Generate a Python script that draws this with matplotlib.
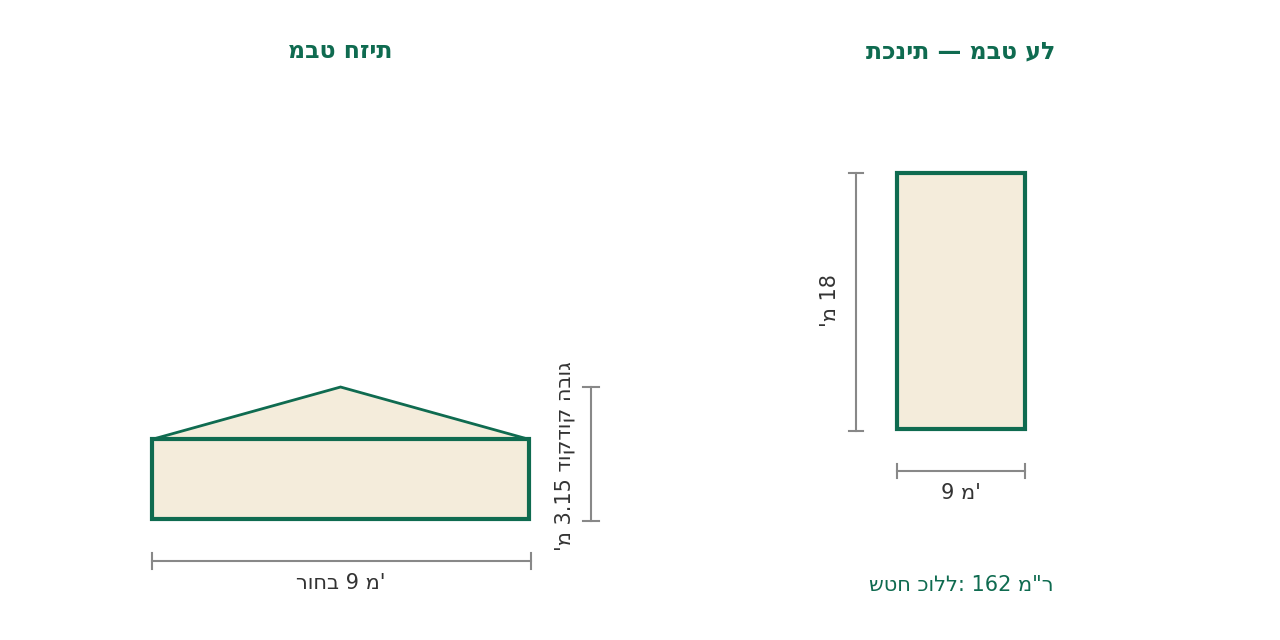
import matplotlib
matplotlib.use("Agg")
import matplotlib.pyplot as plt
from matplotlib.patches import Polygon, Rectangle

width_m = 9
length_m = 18
wall_h = 1.9
ridge_h = 3.15
area = width_m * length_m

title_front = "מבט חזית"
title_plan = "תכנית — מבט על"
lbl_width = "רוחב 9 מ'"
lbl_height = "'מ 3.15 דוקדוק הבוג"
lbl_plan_w = "9 מ'"
lbl_plan_l = "'מ 18"
lbl_area = 'שטח כולל: 162 מ"ר'

GREEN = "#0f6b50"
FILL = "#f4ecdb"
GRAY = "#888888"
TXT = "#333333"
FS = 15
TFS = 17

fig = plt.figure(figsize=(12.8, 6.4), dpi=100)
W, H = 1280, 640

def make_ax(x0px, x1px, sc, ox, oy):
    ax = fig.add_axes([x0px / W, 0, (x1px - x0px) / W, 1])
    ax.set_xlim((x0px - ox) / sc, (x1px - ox) / sc)
    ax.set_ylim(-(H - oy) / sc, oy / sc)
    ax.axis("off")
    return ax

# Front view
sc1 = 41.9
ax1 = make_ax(0, 640, sc1, 152, 519)
ax1.add_patch(Polygon([(0, wall_h), (width_m / 2, ridge_h), (width_m, wall_h)], closed=True,
                      facecolor=FILL, edgecolor=GREEN, lw=2, zorder=2))
ax1.add_patch(Rectangle((0, 0), width_m, wall_h, facecolor=FILL, edgecolor=GREEN, lw=3, zorder=3))
yd = -42 / sc1
t = 8 / sc1
ax1.plot([0, width_m + 2 / sc1], [yd, yd], color=GRAY, lw=1.5)
for xx in (0, width_m + 2 / sc1):
    ax1.plot([xx, xx], [yd - t, yd + t], color=GRAY, lw=1.5)
ax1.text(width_m / 2, yd - 22 / sc1, lbl_width, ha="center", va="center", fontsize=FS, color=TXT)
xd = width_m + 62 / sc1
ax1.plot([xd, xd], [-2 / sc1, ridge_h], color=GRAY, lw=1.5)
for yy in (-2 / sc1, ridge_h):
    ax1.plot([xd - t, xd + t], [yy, yy], color=GRAY, lw=1.5)
ax1.text(xd - 26 / sc1, (ridge_h - 2 / sc1) / 2 - 2 / sc1, lbl_height, rotation=90, ha="center", va="center",
         fontsize=FS, color=TXT)
ax1.text(width_m / 2, (519 - 51) / sc1, title_front, ha="center", va="center", fontsize=TFS,
         fontweight="bold", color=GREEN)

# Plan view
sc2 = 14.25
ax2 = make_ax(640, 1280, sc2, 897, 429)
ax2.add_patch(Rectangle((0, 0), width_m, length_m, facecolor=FILL, edgecolor=GREEN, lw=3))
t2 = 7 / sc2
yd2 = -42 / sc2
ax2.plot([0, width_m], [yd2, yd2], color=GRAY, lw=1.5)
for xx in (0, width_m):
    ax2.plot([xx, xx], [yd2 - t2, yd2 + t2], color=GRAY, lw=1.5)
ax2.text(width_m / 2, yd2 - 22 / sc2, lbl_plan_w, ha="center", va="center", fontsize=FS, color=TXT)
xd2 = -41 / sc2
ax2.plot([xd2, xd2], [-2 / sc2, length_m], color=GRAY, lw=1.5)
for yy in (-2 / sc2, length_m):
    ax2.plot([xd2 - t2, xd2 + t2], [yy, yy], color=GRAY, lw=1.5)
ax2.text(xd2 - 26 / sc2, length_m / 2, lbl_plan_l, rotation=90, ha="center", va="center",
         fontsize=FS, color=TXT)
ax2.text(width_m / 2, (429 - 51) / sc2, title_plan, ha="center", va="center", fontsize=TFS,
         fontweight="bold", color=GREEN)
ax2.text(width_m / 2, -(585 - 429) / sc2, lbl_area, ha="center", va="center", fontsize=FS, color=GREEN)

fig.savefig("out.png", dpi=100, facecolor="white")
